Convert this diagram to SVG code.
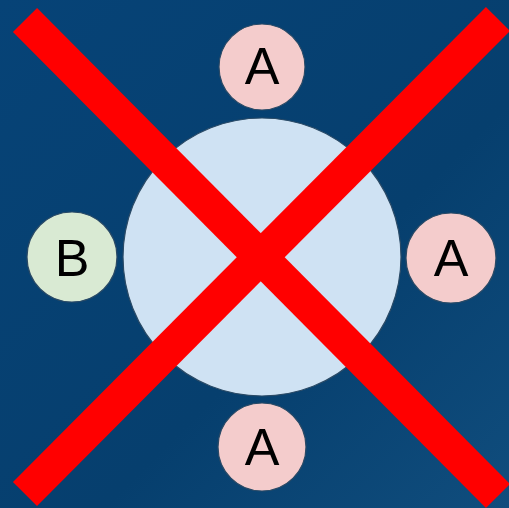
<svg xmlns="http://www.w3.org/2000/svg" width="509" height="508" viewBox="0 0 509 508">
<style>
.n{stroke:#2a4a66;stroke-width:1.2}
.a{fill:#f4cccc}
.b{fill:#d9ead3}
.c{fill:#cfe2f3}
.t{font-family:"Liberation Sans",Arial,sans-serif;font-size:52px;fill:#000;text-anchor:middle}
.x{stroke:#ff0000;stroke-width:34;stroke-linecap:butt}
</style>
<defs>
<linearGradient id="bg" x1="0" y1="0" x2="1" y2="1">
<stop offset="0" stop-color="#064377"/>
<stop offset="0.6" stop-color="#063f6e"/>
<stop offset="1" stop-color="#104d7d"/>
</linearGradient>
</defs>
<rect width="509" height="508" fill="url(#bg)"/>
<g id="center"><circle class="n c" cx="262" cy="257" r="139"/></g>
<g id="a-top"><circle class="n a" cx="262" cy="67" r="43"/><text class="t" x="262" y="84">A</text></g>
<g id="b-left"><circle class="n b" cx="72" cy="257" r="45"/><text class="t" x="72" y="276">B</text></g>
<g id="a-right"><circle class="n a" cx="451" cy="258" r="45"/><text class="t" x="451" y="276">A</text></g>
<g id="a-bottom"><circle class="n a" cx="262" cy="447" r="44"/><text class="t" x="262" y="465">A</text></g>
<g id="connectors">
<line class="x" x1="25" y1="20" x2="498" y2="496"/>
<line class="x" x1="498" y1="19" x2="25" y2="494"/>
</g>
</svg>
